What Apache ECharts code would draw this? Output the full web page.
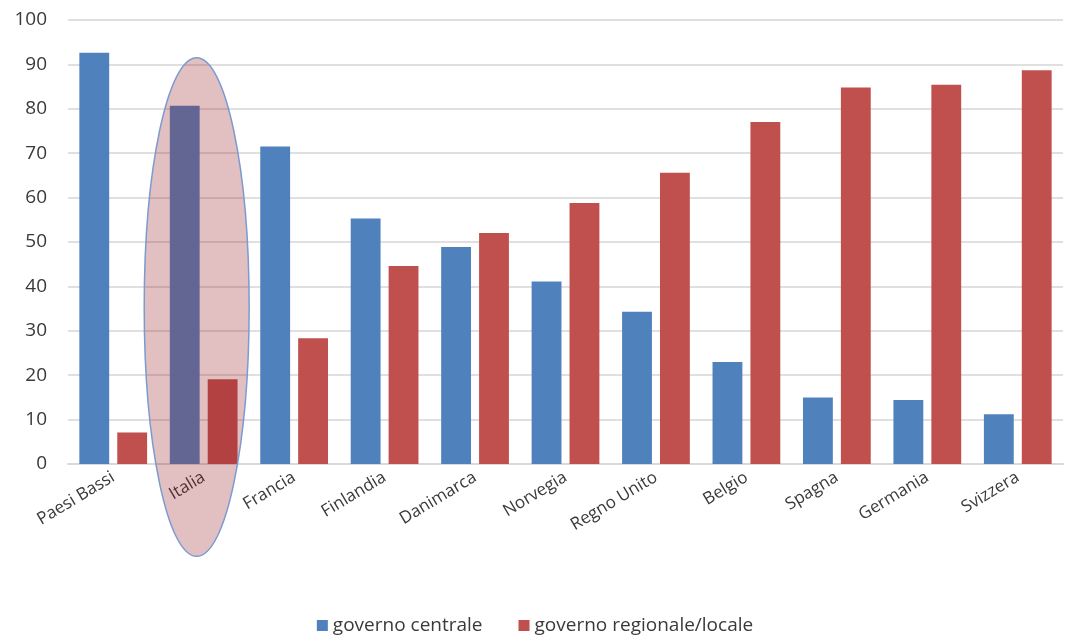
<!DOCTYPE html>
<html>
<head>
<meta charset="utf-8">
<script src="https://cdn.jsdelivr.net/npm/echarts@6/dist/echarts.min.js"></script>
<style>
    html, body { margin: 0; padding: 0; background: #fff; }
    #chart { width: 1070px; height: 635px; }
</style>
</head>
<body>
<div id="chart"></div>
<script>
    var paesi = ['Paesi Bassi', 'Italia', 'Francia', 'Finlandia', 'Danimarca', 'Norvegia',
        'Regno Unito', 'Belgio', 'Spagna', 'Germania', 'Svizzera'];
    var centrale = [92.6, 80.7, 71.5, 55.3, 48.9, 41.1, 34.3, 23.0, 15.0, 14.4, 11.2];
    var regionale = [7.1, 19.1, 28.3, 44.6, 52.0, 58.8, 65.6, 77.0, 84.8, 85.4, 88.7];
    var evidenziato = 'Italia';

    var font = '"Open Sans", Lato, sans-serif';
    var chart = echarts.init(document.getElementById('chart'));

    var option = {
        animation: false,
        grid: { left: 68, right: 7, top: 20, bottom: 171 },
        legend: {
            top: 611,
            icon: 'rect',
            itemWidth: 11,
            itemHeight: 11,
            itemGap: 36,
            textStyle: { color: '#3a3a3a', fontSize: 19, fontFamily: font },
            data: ['governo centrale', 'governo regionale/locale']
        },
        xAxis: {
            type: 'category',
            data: paesi,
            axisTick: { show: false },
            axisLine: { lineStyle: { color: '#d9d9d9', width: 2 } },
            axisLabel: { rotate: 31, interval: 0, margin: 12, color: '#3a3a3a', fontSize: 17, fontFamily: font }
        },
        yAxis: {
            type: 'value',
            min: 0, max: 100, interval: 10,
            axisLine: { show: false },
            axisTick: { show: false },
            axisLabel: { margin: 21, color: '#3a3a3a', fontSize: 19, fontFamily: font },
            splitLine: { lineStyle: { color: '#e0e0e0', width: 2 } }
        },
        series: [
            {
                name: 'governo centrale', type: 'bar', data: centrale,
                barWidth: '33%', barGap: '27%',
                itemStyle: { color: '#4f81bd' }
            },
            {
                name: 'governo regionale/locale', type: 'bar', data: regionale,
                barWidth: '33%',
                itemStyle: { color: '#c0504d' }
            }
        ]
    };
    chart.setOption(option);

    // ellisse di evidenziazione intorno all'Italia
    var cx = chart.convertToPixel({ xAxisIndex: 0 }, evidenziato);
    var yTop = chart.convertToPixel({ yAxisIndex: 0 }, 91.5);
    var yBot = chart.convertToPixel({ yAxisIndex: 0 }, -20.8);
    var larg = (chart.convertToPixel({ xAxisIndex: 0 }, paesi[1]) - chart.convertToPixel({ xAxisIndex: 0 }, paesi[0]));
    chart.setOption({
        graphic: [{
            type: 'ellipse',
            z: 100,
            shape: { cx: cx - 7, cy: (yTop + yBot) / 2, rx: larg * 0.58, ry: (yBot - yTop) / 2 },
            style: { fill: 'rgba(150,30,35,0.28)', stroke: '#7b9bd0', lineWidth: 1.5 }
        }]
    });
</script>
</body>
</html>
